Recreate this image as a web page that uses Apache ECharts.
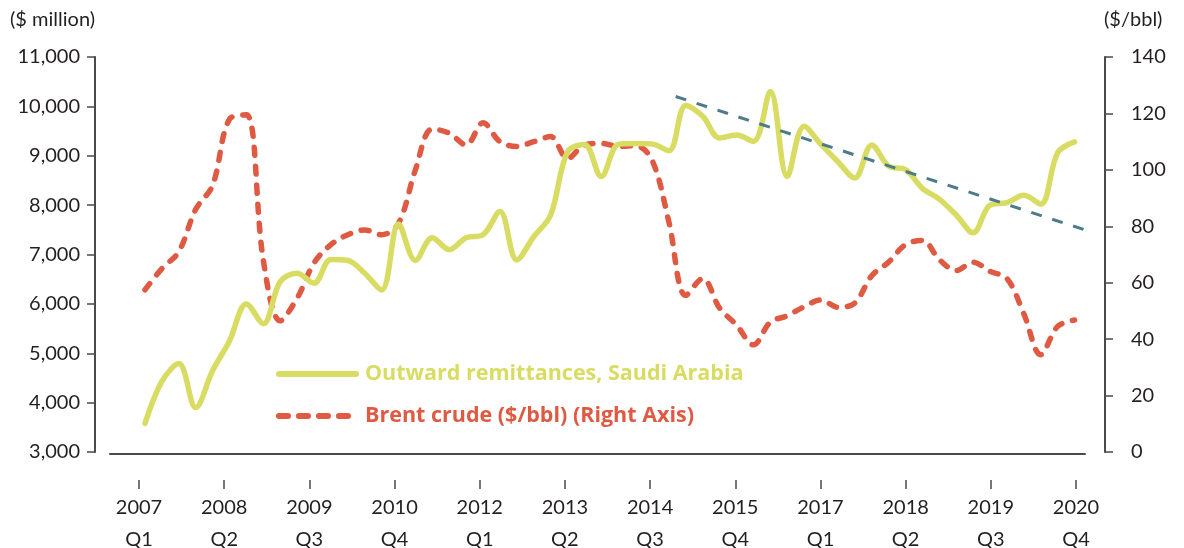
<!DOCTYPE html>
<html><head><meta charset="utf-8">
<script src="https://cdn.jsdelivr.net/npm/echarts@6/dist/echarts.min.js"></script>
<style>html,body{margin:0;padding:0;background:#fff}#c{width:1184px;height:548px}</style>
</head><body><div id="c"></div>
<script>
// Quarterly data, 2007 Q1 .. 2020 Q4 (56 quarters)
const tickLabels = ['2007\nQ1','2008\nQ2','2009\nQ3','2010\nQ4','2012\nQ1','2013\nQ2','2014\nQ3','2015\nQ4','2017\nQ1','2018\nQ2','2019\nQ3','2020\nQ4'];
const remittances = [3580,4430,4790,3900,4650,5250,6000,5600,6450,6620,6420,6900,6880,6620,6280,7620,6880,7340,7100,7340,7400,7870,6890,7360,7800,9080,9230,8580,9230,9250,9240,9100,10020,9800,9360,9420,9290,10300,8580,9600,9230,8880,8550,9220,8790,8720,8340,8120,7800,7440,8000,8050,8200,8020,9060,9280];
const brent = [57.5,65,71,86,94.5,118,119.5,68,46.5,54.5,67,73.5,77,78.7,77,81,100,114.5,113,108.8,116.7,110,108.3,110,111.8,104,108.8,109.4,108.3,108.6,103.5,81.5,55.5,61.5,51,45,38,46,48.3,51.5,53.9,51.3,52.8,62.5,67.3,73.5,75,68.2,64.3,67.3,64,61.5,49,34.5,44.5,46.8];
const trendLine = [[31.4,10200],[56.05,7450]];

const YELLOW = '#d9dc62', RED = '#de5a43', TEAL = '#4b7c87', INK = '#231f20', AX = '#4a4a4a';
const FONT = 'Lato';
const xMin = -2.071, xMax = 55.62;
const tickVals = tickLabels.map((_, k) => -0.355 + 5.0402 * k);

const chart = echarts.init(document.getElementById('c'));
chart.setOption({
  animation: false,
  backgroundColor: '#fff',
  grid: { left: 110, right: 99, top: 57, bottom: 96, containLabel: false, outerBoundsMode: 'none' },
  graphic: [
    { type: 'text', left: 10, top: 10, style: { text: '($ million)', font: '20px Lato', fill: INK } },
    { type: 'text', left: 1104, top: 10, style: { text: '($/bbl)', font: '20px Lato', fill: INK } }
  ],
  legend: {
    orient: 'vertical', left: 276, top: 363, padding: 0,
    itemWidth: 77, itemHeight: 22, itemGap: 20,
    textStyle: { fontFamily: 'Open Sans', fontSize: 21.5, fontWeight: 'bold', lineHeight: 22, padding: [0, 0, 0, 4] },
    data: [
      { name: 'Outward remittances, Saudi Arabia', textStyle: { color: YELLOW },
        itemStyle: { opacity: 0, borderWidth: 0 }, lineStyle: { width: 6 } },
      { name: 'Brent crude ($/bbl) (Right Axis)', textStyle: { color: RED },
        itemStyle: { opacity: 0, borderWidth: 0 }, lineStyle: { width: 6, type: [9, 11] } }
    ]
  },
  xAxis: [
    { type: 'value', min: xMin, max: xMax, position: 'bottom', offset: 2,
      axisLine: { show: true, onZero: false, lineStyle: { color: AX, width: 2 } },
      axisTick: { show: false }, axisLabel: { show: false }, splitLine: { show: false } },
    { type: 'value', min: xMin, max: xMax, position: 'bottom', offset: 28,
      axisLine: { show: false, onZero: false },
      axisTick: { show: true, length: 9, customValues: tickVals, lineStyle: { color: AX, width: 1.5 } },
      axisLabel: { show: true, customValues: tickVals, margin: 12, fontFamily: FONT, fontSize: 20, lineHeight: 32, color: INK,
        formatter: v => tickLabels[Math.round((v + 0.355) / 5.0402)] },
      splitLine: { show: false } }
  ],
  yAxis: [
    { type: 'value', min: 3000, max: 11000, interval: 1000, position: 'left', offset: 15,
      axisLine: { show: true, onZero: false, lineStyle: { color: AX, width: 2 } },
      axisTick: { show: true, length: 8, lineStyle: { color: AX, width: 1.5 } },
      axisLabel: { margin: 15, fontFamily: FONT, fontSize: 20, color: INK },
      splitLine: { show: false } },
    { type: 'value', min: 0, max: 140, interval: 20, position: 'right', offset: 20,
      axisLine: { show: true, onZero: false, lineStyle: { color: AX, width: 2 } },
      axisTick: { show: true, length: 8, lineStyle: { color: AX, width: 1.5 } },
      axisLabel: { margin: 26, fontFamily: FONT, fontSize: 20, color: INK },
      splitLine: { show: false } }
  ],
  series: [
    { name: 'Brent crude ($/bbl) (Right Axis)', type: 'line', xAxisIndex: 0, yAxisIndex: 1,
      data: brent.map((v, i) => [i, v]), smooth: 0.35, symbol: 'none', z: 2,
      itemStyle: { color: RED },
      lineStyle: { color: RED, width: 5.5, type: [8, 11], cap: 'round', join: 'round' } },
    { name: 'Outward remittances, Saudi Arabia', type: 'line', xAxisIndex: 0, yAxisIndex: 0,
      data: remittances.map((v, i) => [i, v]), smooth: 0.35, symbol: 'none', z: 3,
      itemStyle: { color: YELLOW },
      lineStyle: { color: YELLOW, width: 5.5, cap: 'round', join: 'round' } },
    { name: 'Trend', type: 'line', xAxisIndex: 0, yAxisIndex: 0, clip: false,
      data: trendLine, symbol: 'none', z: 4, silent: true,
      itemStyle: { color: TEAL },
      lineStyle: { color: TEAL, width: 3, type: [11, 11] } }
  ]
});
</script></body></html>
